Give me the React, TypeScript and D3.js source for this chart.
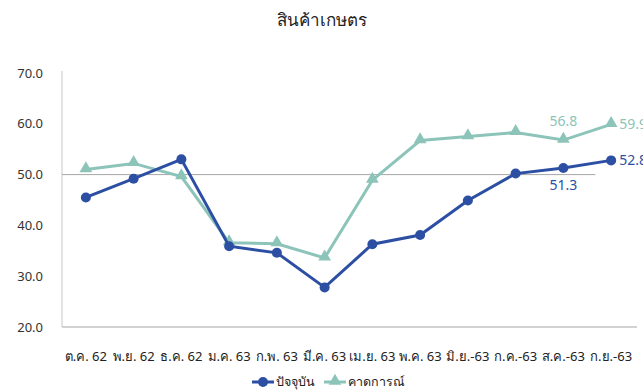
import { line, scaleLinear, scalePoint, symbol, symbolTriangle } from "d3";

const TITLE = "สินค้าเกษตร";
const MONTHS = [
  "ต.ค. 62",
  "พ.ย. 62",
  "ธ.ค. 62",
  "ม.ค. 63",
  "ก.พ. 63",
  "มี.ค. 63",
  "เม.ย. 63",
  "พ.ค. 63",
  "มิ.ย.-63",
  "ก.ค.-63",
  "ส.ค.-63",
  "ก.ย.-63",
];
const CURRENT = [45.5, 49.2, 53.0, 35.9, 34.6, 27.8, 36.3, 38.1, 44.9, 50.2, 51.3, 52.8];
const FORECAST = [51.0, 52.2, 49.6, 36.6, 36.4, 33.6, 48.9, 56.7, 57.5, 58.3, 56.8, 59.9];
const Y_TICKS = [20, 30, 40, 50, 60, 70];
const BASELINE = 50;
const SERIES_NAMES = ["ปัจจุบัน", "คาดการณ์"];

const WIDTH = 643;
const HEIGHT = 392;
const PLOT = { left: 62, right: 635, top: 73, bottom: 327 };
const BLUE = "#2C4FA3";
const TEAL = "#8CC4BA";
const FONT = "Tahoma, 'Noto Sans', 'DejaVu Sans', sans-serif";

export default function App() {
  const step = (PLOT.right - PLOT.left) / MONTHS.length;
  const x = scalePoint<string>()
    .domain(MONTHS)
    .range([PLOT.left + step / 2, PLOT.right - step / 2]);
  const y = scaleLinear().domain([20, 70]).range([PLOT.bottom, PLOT.top]);

  const path = line<number>()
    .x((_, i) => x(MONTHS[i]) ?? 0)
    .y((d) => y(d));

  const tri = symbol().type(symbolTriangle).size(70)() ?? "";
  const last = MONTHS.length - 1;

  return (
    <svg
      width={WIDTH}
      height={HEIGHT}
      style={{ position: "absolute", left: 0, top: 0, fontFamily: FONT }}
    >
      <rect width={WIDTH} height={HEIGHT} fill="#fff" />
      <text x={WIDTH / 2} y={26} textAnchor="middle" fontSize={17} fill="#222">
        {TITLE}
      </text>

      {/* y axis */}
      <line x1={PLOT.left} x2={PLOT.left} y1={PLOT.top - 2} y2={PLOT.bottom} stroke="#d9d9d9" strokeWidth={1.5} />
      {Y_TICKS.map((t) => (
        <text
          key={t}
          x={43}
          y={y(t)}
          dy="0.35em"
          textAnchor="end"
          fontSize={13}
          fill="#333"
        >
          {t.toFixed(1)}
        </text>
      ))}
      <line x1={PLOT.left} x2={PLOT.right + 2} y1={PLOT.bottom} y2={PLOT.bottom} stroke="#a6a6a6" strokeWidth={1.2} />

      {/* 50 line */}
      <line
        x1={PLOT.left}
        x2={(x(MONTHS[last]) ?? 0) - step * 0.33}
        y1={y(BASELINE)}
        y2={y(BASELINE)}
        stroke="#a6a6a6"
        strokeWidth={1}
      />

      {MONTHS.map((m) => (
        <text key={m} x={x(m)} y={361} textAnchor="middle" fontSize={13} fill="#222">
          {m}
        </text>
      ))}

      <path d={path(FORECAST) ?? ""} fill="none" stroke={TEAL} strokeWidth={3} />
      {FORECAST.map((v, i) => (
        <path key={i} d={tri} transform={`translate(${x(MONTHS[i])},${y(v) - 1})`} fill={TEAL} />
      ))}
      <path d={path(CURRENT) ?? ""} fill="none" stroke={BLUE} strokeWidth={3} />
      {CURRENT.map((v, i) => (
        <circle key={i} cx={x(MONTHS[i])} cy={y(v)} r={5} fill={BLUE} />
      ))}

      {/* data labels */}
      <text x={x(MONTHS[last - 1])} y={y(FORECAST[last - 1]) - 14} textAnchor="middle" fontSize={14} fill={TEAL}>
        {FORECAST[last - 1].toFixed(1)}
      </text>
      <text x={(x(MONTHS[last]) ?? 0) + 8} y={y(FORECAST[last])} dy="0.35em" fontSize={14} fill={TEAL}>
        {FORECAST[last].toFixed(1)}
      </text>
      <text x={x(MONTHS[last - 1])} y={y(CURRENT[last - 1]) + 22} textAnchor="middle" fontSize={14} fill={BLUE}>
        {CURRENT[last - 1].toFixed(1)}
      </text>
      <text x={(x(MONTHS[last]) ?? 0) + 8} y={y(CURRENT[last])} dy="0.35em" fontSize={14} fill={BLUE}>
        {CURRENT[last].toFixed(1)}
      </text>

      {/* legend */}
      <g transform="translate(252,382)">
        <line x1={0} x2={22} stroke={BLUE} strokeWidth={3} />
        <circle cx={11} r={5} fill={BLUE} />
        <text x={24} dy="0.35em" fontSize={12.5} fill="#222">
          {SERIES_NAMES[0]}
        </text>
      </g>
      <g transform="translate(324,382)">
        <line x1={0} x2={22} stroke={TEAL} strokeWidth={3} />
        <path d={tri} transform="translate(11,-1)" fill={TEAL} />
        <text x={24} dy="0.35em" fontSize={12.5} fill="#222">
          {SERIES_NAMES[1]}
        </text>
      </g>
    </svg>
  );
}
